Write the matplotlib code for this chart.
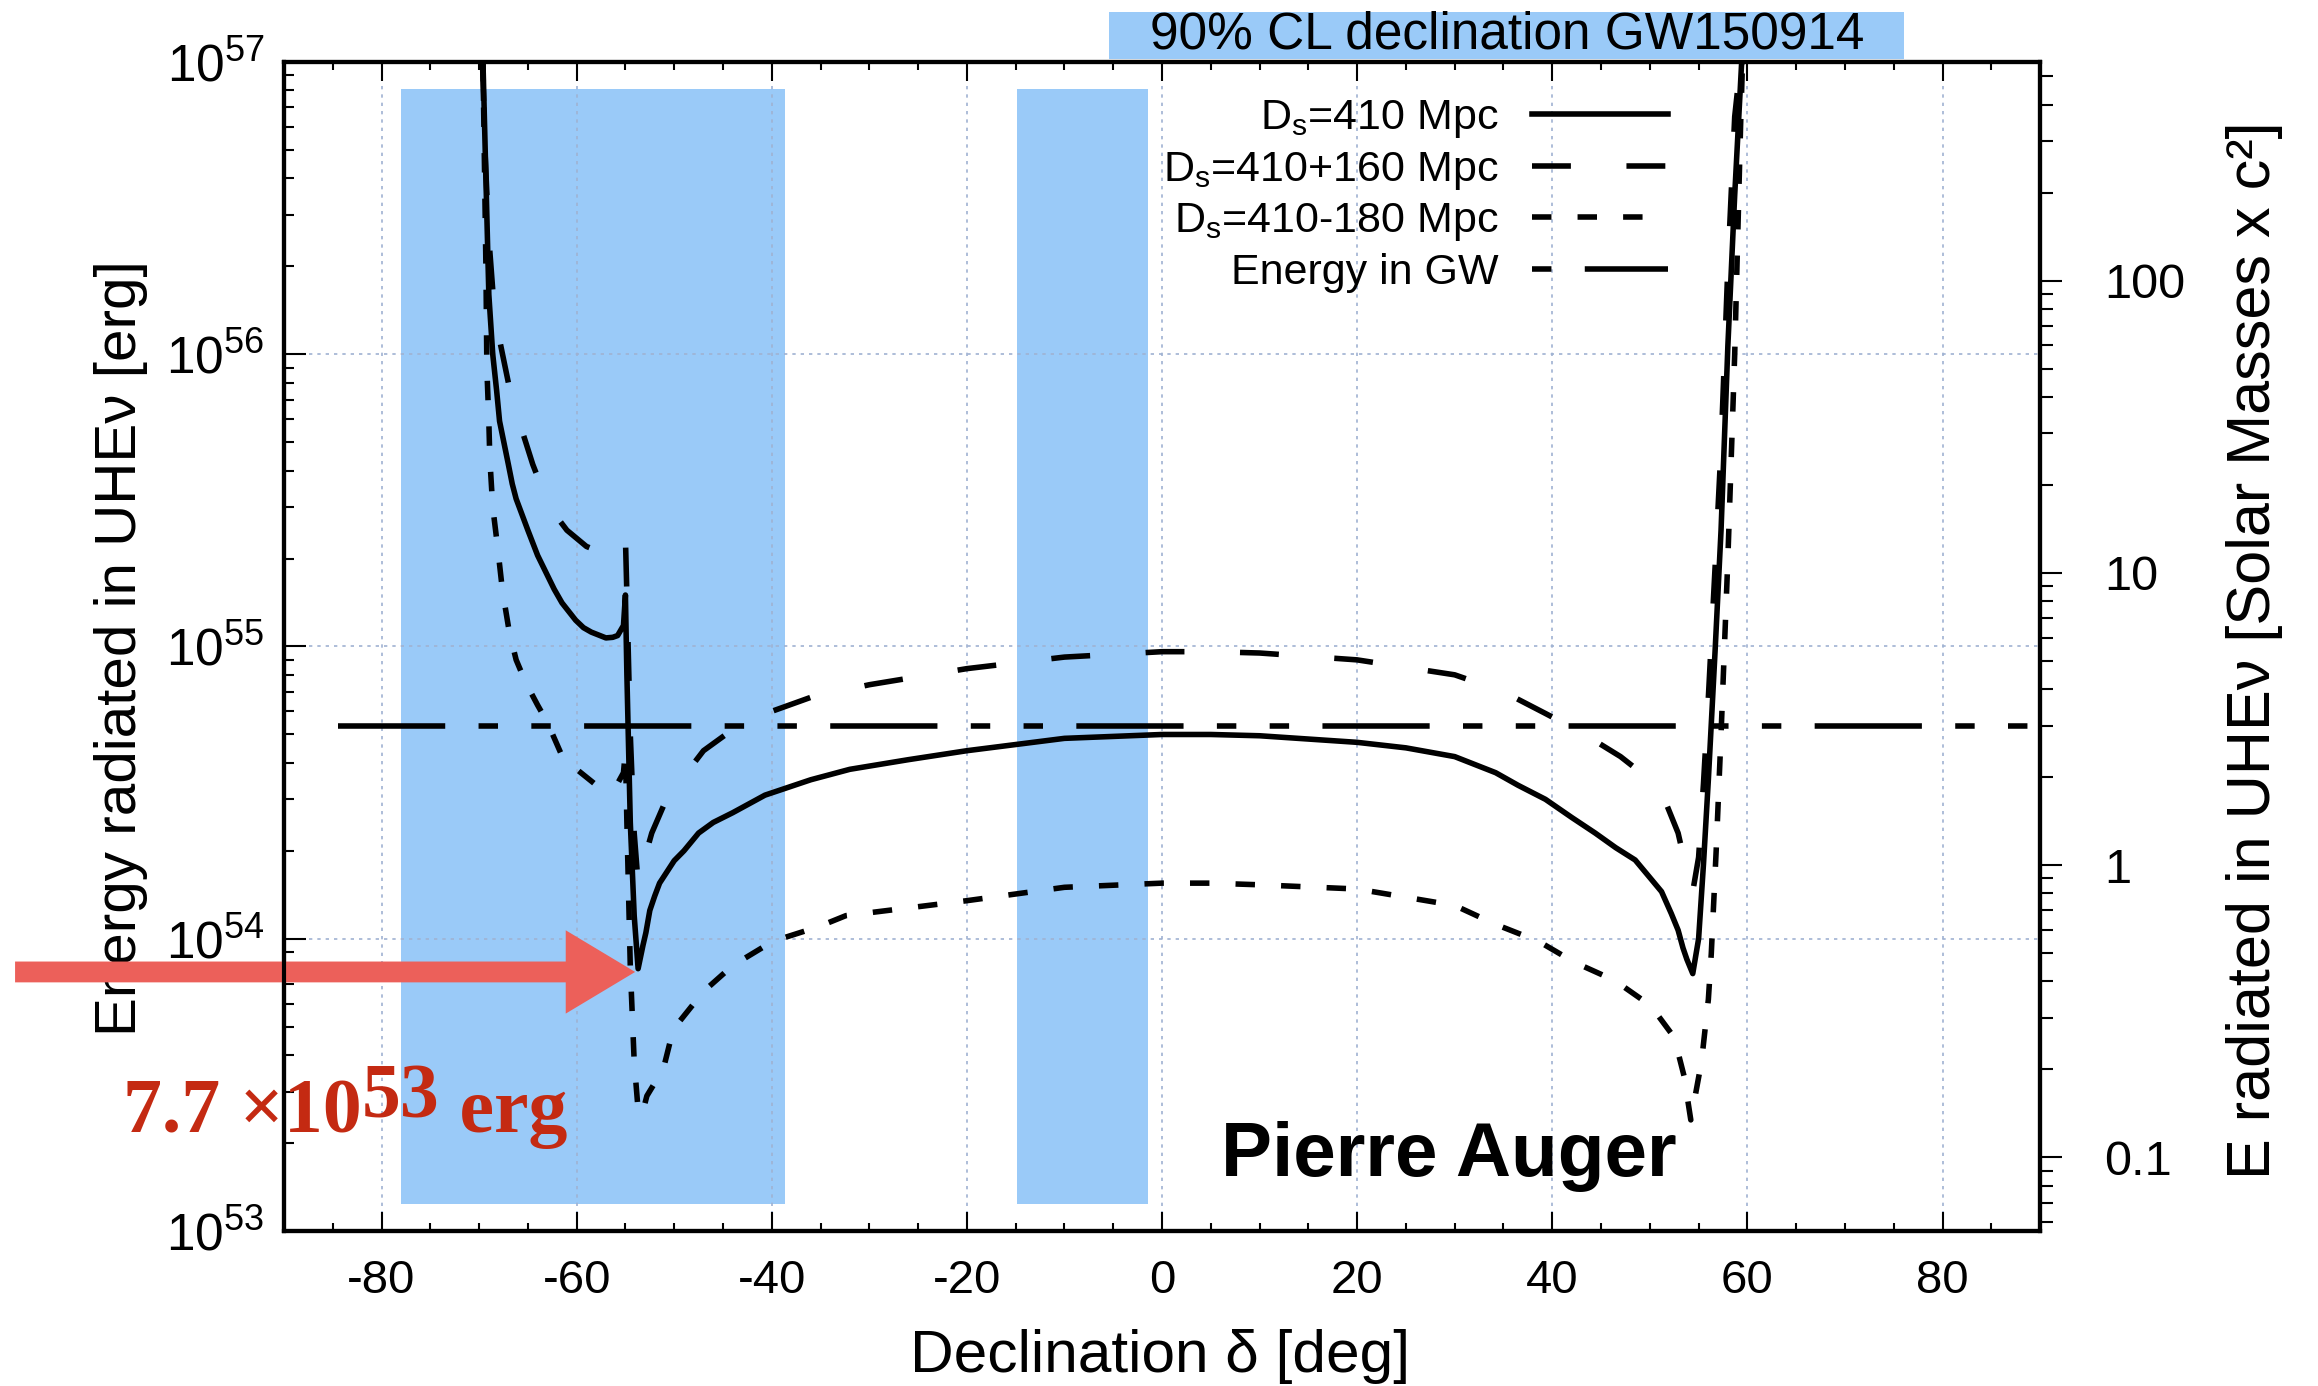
import numpy as np
import matplotlib.pyplot as plt
from matplotlib.lines import Line2D
from matplotlib.patches import Rectangle
from matplotlib.ticker import LogLocator, FixedLocator, FuncFormatter, NullFormatter
from matplotlib.transforms import blended_transform_factory

plt.rcParams['font.family'] = ['Liberation Sans', 'DejaVu Sans']
plt.rcParams['mathtext.default'] = 'regular'
plt.rcParams['axes.unicode_minus'] = False

ERG_PER_MSUN = 1.787e54   # erg per solar mass x c^2

# declination [deg] and energy [1e54 erg]
dec_410 = [-69.6, -69.3, -69.0, -68.6, -68.2, -67.9, -67.0, -66.6, -66.2, -65.0, -64.0, -63.1,
           -62.3, -61.5, -60.1, -59.3, -58.5, -57.0, -56.3, -55.8, -55.2, -55.0, -54.85, -54.5,
           -54.1, -53.7, -53.2, -52.9, -52.5, -52.0, -51.5, -50.0, -49.0, -47.5, -46.0, -44.0,
           -40.7, -36.0, -32.0, -26.0, -20.0, -10.0, 0.0, 5.0, 10.0, 20.0, 25.0, 30.0, 34.2,
           36.5, 39.3, 42.0, 44.4, 46.5, 48.5, 50.0, 51.2, 52.2, 52.9, 53.4, 53.8, 54.4, 55.0,
           55.5, 56.0, 56.7, 57.3, 58.0, 58.7, 59.4, 59.5]
e_410 = [1000, 400, 160, 100, 75, 59, 42, 36, 32, 25, 20.5, 17.8,
         15.7, 14.1, 12.3, 11.6, 11.2, 10.7, 10.75, 10.9, 11.8, 15.0, 8.0, 2.5,
         1.2, 0.79, 0.95, 1.05, 1.25, 1.4, 1.55, 1.85, 2.0, 2.3, 2.5, 2.7,
         3.1, 3.5, 3.8, 4.1, 4.4, 4.85, 5.0, 5.0, 4.95, 4.7, 4.5, 4.2, 3.7,
         3.35, 3.0, 2.6, 2.3, 2.05, 1.86, 1.62, 1.45, 1.22, 1.07, 0.93, 0.85, 0.76, 1.0,
         1.8, 3.5, 9.8, 25, 107, 350, 980, 1000]

dec_570 = [-69.65, -69.4, -69.0, -68.5, -67.9, -67.0, -65.9, -64.5, -62.8, -61.0, -59.0, -57.5,
           -56.0, -55.3, -55.0, -54.85, -54.5, -54.1, -53.7, -53.2, -52.3, -51.0, -49.0, -47.0,
           -44.0, -40.0, -36.0, -30.0, -20.0, -10.0, 0.0, 5.0, 10.0, 20.0, 30.0, 35.0, 39.3,
           42.9, 47.0, 51.0, 52.9, 53.8, 54.4, 55.0, 55.5, 56.0, 56.7, 57.3, 58.0, 58.7, 59.3]
e_570 = [1000, 500, 250, 150, 112, 80, 59, 42, 30, 25, 22, 21,
         21.0, 21.6, 23.5, 15, 5.0, 2.3, 1.55, 1.8, 2.3, 2.9, 3.6, 4.4,
         5.2, 6.0, 6.7, 7.4, 8.4, 9.2, 9.6, 9.6, 9.5, 9.0, 8.0, 7.0, 5.9,
         5.1, 4.2, 3.3, 2.3, 1.7, 1.45, 1.9, 3.4, 6.7, 19, 48, 200, 650, 1000]

dec_230 = [-69.6, -69.3, -69.2, -69.0, -68.9, -68.6, -68.1, -67.6, -66.9, -66.2, -65.2, -64.0,
           -63.0, -61.6, -60.0, -58.2, -57.0, -55.8, -55.2, -55.0, -54.85, -54.5, -54.1, -53.7,
           -53.3, -52.8, -51.1, -50.1, -47.0, -44.0, -39.9, -35.2, -32.4, -20.0, -10.0, 0.0, 5.0,
           10.0, 20.0, 30.0, 34.2, 38.6, 42.3, 46.4, 50.1, 52.5, 53.5, 54.2, 55.3, 56.0, 56.3,
           56.8, 57.3, 58.0, 58.7, 59.3, 59.5]
e_230 = [1000, 200, 89, 59, 44, 30, 21.9, 15.5, 11.2, 9.0, 7.5, 6.3,
         5.5, 4.3, 3.8, 3.4, 3.35, 3.4, 3.7, 4.4, 2.5, 0.8, 0.38, 0.26,
         0.25, 0.29, 0.36, 0.49, 0.66, 0.81, 0.98, 1.1, 1.2, 1.35, 1.5, 1.55, 1.55,
         1.53, 1.48, 1.3, 1.12, 0.98, 0.83, 0.72, 0.59, 0.46, 0.34, 0.24, 0.38, 0.62, 0.89,
         2.0, 5.0, 20, 100, 600, 1000]

gw_dec = [-84.5, 90.0]
gw_msun = [3.0, 3.0]          # energy in GW, solar masses x c^2

bands = [(-78.0, -38.6), (-14.9, -1.4)]
cl_band = (-5.4, 76.1)

labels = [r'$D_s$=410 Mpc', r'$D_s$=410+160 Mpc', r'$D_s$=410-180 Mpc', 'Energy in GW']

BLUE = '#9acaf8'
LW = 4.0
ls_solid = '-'
ls_dash = (0, (7, 10))
ls_dot = (0, (3.5, 4.7))
ls_gw = (0, (19.3, 6, 3.5, 6, 3.5, 6))

fig = plt.figure(figsize=(23.18, 13.86), dpi=100)
ax = fig.add_axes([0.1225, 0.1118, 0.7576, 0.8435])

for lo, hi in bands:
    ax.axvspan(lo, hi, ymin=0.023, ymax=0.977, color=BLUE, lw=0, zorder=0.5)

ax.plot(dec_410, np.array(e_410) * 1e54, color='k', lw=LW, ls=ls_solid, zorder=3)
ax.plot(dec_570, np.array(e_570) * 1e54, color='k', lw=LW, ls=ls_dash, zorder=3)
ax.plot(dec_230, np.array(e_230) * 1e54, color='k', lw=LW, ls=ls_dot, zorder=3)
ax.plot(gw_dec, np.array(gw_msun) * ERG_PER_MSUN, color='k', lw=LW, ls=ls_gw, zorder=3)

ax.set_yscale('log')
ax.set_xlim(-90, 90)
ax.set_ylim(1e53, 1e57)
ax.xaxis.set_major_locator(FixedLocator(np.arange(-80, 81, 20)))
ax.xaxis.set_minor_locator(FixedLocator(np.arange(-90, 91, 5)))
ax.yaxis.set_major_locator(LogLocator(base=10, numticks=10))
ax.yaxis.set_minor_locator(LogLocator(base=10, subs=np.arange(2, 10), numticks=10))
ax.yaxis.set_minor_formatter(NullFormatter())
ax.yaxis.set_major_formatter(FuncFormatter(lambda v, p: r'$10^{%d}$' % round(np.log10(v))))
ax.tick_params(axis='both', which='both', direction='in', top=True, right=False, width=1.5)
ax.tick_params(axis='x', which='major', length=14, labelsize=34, pad=20)
ax.tick_params(axis='x', which='minor', length=6)
ax.tick_params(axis='y', which='major', length=16, labelsize=37, pad=14)
ax.tick_params(axis='y', which='minor', length=7)
ax.grid(True, which='major', color='#9fb2d2', lw=1.2, ls=(0, (2, 3)))
for s in ax.spines.values():
    s.set_linewidth(3)

ax.set_xlabel('Declination δ [deg]', fontsize=43.5)
ax.xaxis.set_label_coords(0.499, -0.084)
ax.set_ylabel('Energy radiated in UHEν [erg]', fontsize=42)
ax.yaxis.set_label_coords(-0.0774, 0.499)

ax2 = ax.twinx()
ax2.set_yscale('log')
ax2.set_ylim(1e53 / ERG_PER_MSUN, 1e57 / ERG_PER_MSUN)
ax2.yaxis.set_major_locator(FixedLocator([0.1, 1, 10, 100]))
ax2.yaxis.set_major_formatter(FuncFormatter(lambda v, p: '%g' % v))
ax2.yaxis.set_minor_locator(LogLocator(base=10, subs=np.arange(2, 10), numticks=10))
ax2.yaxis.set_minor_formatter(NullFormatter())
ax2.tick_params(axis='y', which='major', direction='out', length=16, width=1.5, labelsize=35, pad=30)
ax2.tick_params(axis='y', which='minor', direction='out', length=9, width=1.5)
for s in ax2.spines.values():
    s.set_linewidth(3)
ax2.set_ylabel('E radiated in UHEν [Solar Masses x c²]', fontsize=44)
ax2.yaxis.set_label_coords(1.106, 0.497)

# 90% CL banner above the axes
trans = blended_transform_factory(ax.transData, ax.transAxes)
ax.add_patch(Rectangle((cl_band[0], 1.0026), cl_band[1] - cl_band[0], 0.040, transform=trans,
                       color=BLUE, lw=0, clip_on=False))
ax.text(np.mean(cl_band), 1.023, '90% CL declination GW150914', transform=trans,
        ha='center', va='center', fontsize=37)

ax.text(6.0, 10 ** 53.188, 'Pierre Auger', fontsize=55, fontweight='bold', ha='left',
        va='baseline', zorder=4)

handles = [Line2D([], [], color='k', lw=LW, ls=ls_solid),
           Line2D([], [], color='k', lw=LW, ls=ls_dash),
           Line2D([], [], color='k', lw=LW, ls=ls_dot),
           Line2D([], [], color='k', lw=LW, ls=(34.8, (19.3, 6, 3.5, 6, 3.5, 6)))]
ax.legend(handles, labels, loc='upper right', bbox_to_anchor=(0.788, 0.969), frameon=False,
          markerfirst=False, fontsize=31, borderpad=0, borderaxespad=0, labelspacing=0.22,
          handlelength=3.15, handletextpad=0.78)

# red arrow + value
tail = blended_transform_factory(fig.transFigure, ax.transData)
ax.annotate('', xy=(-54.0, 7.7e53), xytext=(0.0065, 7.7e53), textcoords=tail,
            arrowprops=dict(width=15, headwidth=60, headlength=50, shrink=0,
                            facecolor='#ec605a', edgecolor='none'), annotation_clip=False)
red = dict(family='Liberation Serif', fontweight='bold', fontsize=56, color='#c42a12')
t1 = fig.text(0.0531, 0.183, '7.7 ×10', va='baseline', ha='left', **red)
t2 = ax.annotate('53', xy=(1, 0), xycoords=t1, xytext=(0, 11), textcoords='offset points',
                 va='bottom', ha='left', annotation_clip=False, **red)
ax.annotate(' erg', xy=(1, 0), xycoords=t2, xytext=(0, -11), textcoords='offset points',
            va='bottom', ha='left', annotation_clip=False, **red)

fig.savefig('out.png', dpi=100)
